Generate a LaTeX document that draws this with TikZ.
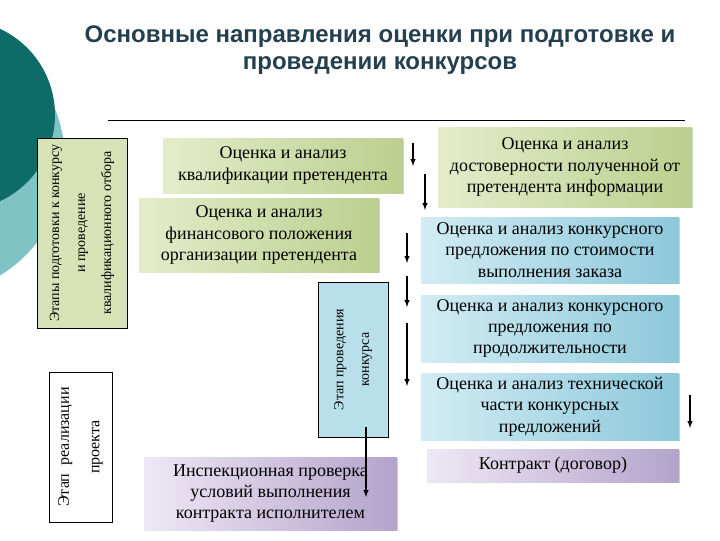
\documentclass[tikz,border=0pt]{standalone}
\usepackage{fontspec}
\setmainfont{Liberation Serif}
\newfontfamily\titlefont{Liberation Sans}
\usetikzlibrary{shadows}
\definecolor{tealdark}{HTML}{0E6B68}
\definecolor{teallight}{HTML}{7FC3C4}
\definecolor{titlecol}{HTML}{24404F}
\definecolor{gA}{HTML}{E4ECCB}
\definecolor{gB}{HTML}{BCCF8E}
\definecolor{bA}{HTML}{D2ECF3}
\definecolor{bB}{HTML}{8DC8DB}
\definecolor{pA}{HTML}{EEE8F5}
\definecolor{pB}{HTML}{B3A3CB}
\definecolor{lgreen}{HTML}{D7E3B7}
\definecolor{lblue}{HTML}{B9DFEA}
\tikzset{
 box/.style={draw=none,inner sep=0pt,align=center,font=\fontsize{13.5}{16}\selectfont,drop shadow={shadow xshift=1pt,shadow yshift=-1pt,opacity=0.35}},
 gbox/.style={box,left color=gA,right color=gB},
 bbox/.style={box,left color=bA,right color=bB},
 pbox/.style={box,left color=pA,right color=pB},
 vbox/.style={draw=black,thin,inner sep=0pt},
 arr/.style={-latex,thick},
}
\begin{document}
\begin{tikzpicture}[x=0.75pt,y=-0.75pt]
\useasboundingbox (0,0) rectangle (720,540);
\fill[teallight] (-70,160) circle (135);
\fill[tealdark] (-40,115) circle (95);
\node[font=\titlefont\bfseries\fontsize{18}{20}\selectfont,text=titlecol,align=center] (title) at (380,50) {Основные направления оценки при подготовке и\\проведении конкурсов};
\coordinate (l1) at (108,120); \coordinate (l2) at (685,120);
\draw (l1) -- (l2);
% left boxes
\node[vbox,fill=lgreen,minimum width=90*0.75pt,minimum height=190*0.75pt] (L1) at (82,233) {};
\node[rotate=90,align=center,font=\fontsize{10.5}{19.5}\selectfont] (L1t) at (L1.center) {Этапы подготовки к конкурсу\\и проведение\\квалификационного отбора};
\node[vbox,fill=white,minimum width=63*0.75pt,minimum height=150*0.75pt] (L2) at (80.5,447) {};
\node[rotate=90,align=center,font=\fontsize{12}{23}\selectfont] (L2t) at (L2.center) {Этап\ \ реализации\\проекта};
% green boxes
\node[gbox,minimum width=240*0.75pt,minimum height=55*0.75pt] (A) at (283,165.5) {Оценка и анализ\\квалификации претендента};
\node[gbox,minimum width=240*0.75pt,minimum height=74*0.75pt] (B) at (259,235) {Оценка и анализ\\финансового положения\\организации претендента};
\node[vbox,fill=lblue,minimum width=70*0.75pt,minimum height=155*0.75pt] (C) at (353,359.5) {};
\node[rotate=90,align=center,font=\fontsize{10.5}{19}\selectfont] (Ct) at (C.center) {Этап проведения\\конкурса};
\node[pbox,minimum width=253*0.75pt,minimum height=73*0.75pt] (D) at (270.5,493.5) {Инспекционная проверка\\условий выполнения\\контракта исполнителем};
% right
\node[gbox,minimum width=254*0.75pt,minimum height=80*0.75pt] (E) at (565,167) {Оценка и анализ\\достоверности полученной от\\претендента информации};
\node[bbox,minimum width=258*0.75pt,minimum height=66*0.75pt] (F) at (550,250) {Оценка и анализ конкурсного\\предложения по стоимости\\выполнения заказа};
\node[bbox,minimum width=258*0.75pt,minimum height=67*0.75pt] (G) at (550,328.5) {Оценка и анализ конкурсного\\предложения по\\продолжительности};
\node[bbox,minimum width=258*0.75pt,minimum height=67*0.75pt] (H) at (550,406.5) {Оценка и анализ технической\\части конкурсных\\предложений};
\node[pbox,minimum width=252*0.75pt,minimum height=33*0.75pt] (I) at (553,465.5) {Контракт (договор)};
% arrows
\coordinate (a1s) at (413,143); \coordinate (a1e) at (413,166);
\coordinate (a2s) at (425,174); \coordinate (a2e) at (425,210);
\coordinate (a3s) at (407,233); \coordinate (a3e) at (407,263);
\coordinate (a4s) at (407,276); \coordinate (a4e) at (407,307);
\coordinate (a5s) at (407,323); \coordinate (a5e) at (407,386);
\coordinate (a6s) at (690,395); \coordinate (a6e) at (690,428);
\coordinate (a7s) at (366,427); \coordinate (a7e) at (366,497);
\foreach \i in {1,...,7}{\draw[arr] (a\i s) -- (a\i e);}
\end{tikzpicture}
\end{document}
